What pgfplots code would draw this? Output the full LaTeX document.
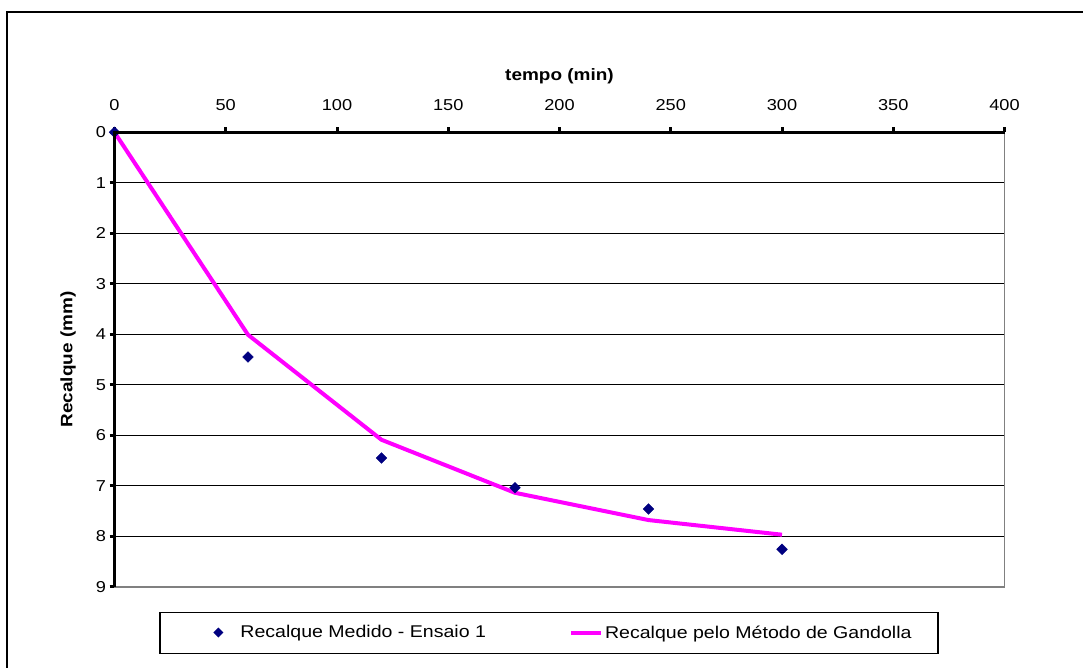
\documentclass[border=0pt]{standalone}
\usepackage{pgfplots}
\pgfplotsset{compat=1.18}
\usepackage{fontspec}
\setmainfont{Liberation Sans}[FakeStretch=1.15]
\definecolor{navymark}{RGB}{0,0,128}
\definecolor{gandolla}{RGB}{255,0,255}
\definecolor{framegray}{RGB}{128,128,128}

\begin{document}
\begin{tikzpicture}
\path[use as bounding box] (0,0) rectangle (1083bp,-668bp);
% outer chart frame
\draw[line width=2.2bp] (7bp,-668bp) -- (7bp,-12bp) -- (1083bp,-12bp);
\begin{axis}[
  at={(114.5bp,-132.3bp)}, anchor=north west,
  scale only axis, width=890bp, height=454.4bp,
  xmin=0, xmax=400, ymin=0, ymax=9,
  y dir=reverse,
  xtick={0,50,...,400}, ytick={0,1,...,9},
  xtick pos=right, xticklabel pos=right,
  ytick pos=left, yticklabel pos=left,
  tick align=outside,
  major tick length=5bp,
  tick style={line width=3bp, black},
  axis line style={line width=1.6bp, framegray},
  ymajorgrids,
  grid style={line width=1.1bp, black},
  /pgf/number format/assume math mode=true,
  ticklabel style={font=\fontsize{15.8bp}{18bp}\selectfont},
  xticklabel style={yshift=13bp},
  legend columns=2,
  legend style={draw=none, fill=none, at={(0.102,-0.1008)}, anchor=west,
    font=\fontsize{17bp}{20bp}\selectfont,
    /tikz/every even column/.append style={column sep=81bp}},
  clip=false,
]
\addplot[only marks, mark=square*, mark size=3.8bp,
  mark options={rotate=45, fill=navymark, draw=navymark},
  legend image code/.code={
    \path[draw=none] (0bp,0bp) -- (30bp,0bp);
    \fill[navymark, draw=none] (10bp,5bp) -- (15bp,0bp) -- (10bp,-5bp) -- (5bp,0bp) -- cycle;}]
  coordinates {(0,0) (60,4.45) (120,6.45) (180,7.04) (240,7.46) (300,8.26)};
\addlegendentry{Recalque Medido - Ensaio 1}
\addplot[gandolla, line width=4bp,
  legend image code/.code={\draw[gandolla, line width=4bp] (0bp,0bp) -- (30bp,0bp);}]
  coordinates {(0,0) (60,4.01) (120,6.09) (180,7.14) (240,7.68) (300,7.97)};
\addlegendentry{Recalque pelo Método de Gandolla}
\end{axis}
% heavy left and top axis lines
\draw[line width=3.6bp, black] (current axis.south west) -- (current axis.north west) -- (current axis.north east);
% axis titles
\node[font=\fontsize{16.5bp}{20bp}\selectfont\bfseries] at (559.5bp,-76bp) {tempo (min)};
\node[font=\fontsize{16.5bp}{20bp}\selectfont\bfseries, rotate=90] at (68bp,-359.5bp) {Recalque (mm)};
% legend frame
\draw[line width=1.2bp] (160bp,-612.3bp) rectangle (938bp,-653.3bp);
\end{tikzpicture}
\end{document}
